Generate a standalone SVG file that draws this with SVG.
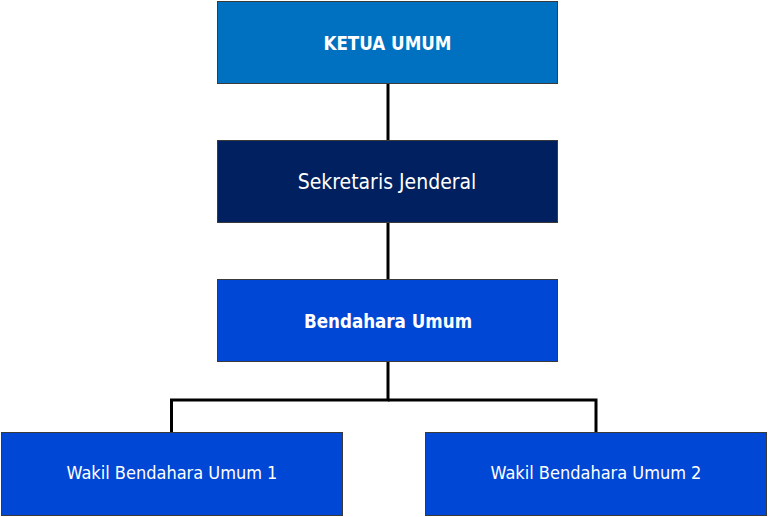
<svg xmlns="http://www.w3.org/2000/svg" width="768" height="517" viewBox="0 0 768 517">
<style>
.box{stroke:#3a3a3a;stroke-width:1}
.t{font-family:"DejaVu Sans Condensed","DejaVu Sans",sans-serif;font-stretch:condensed;fill:#ffffff;text-anchor:middle;font-size:18px}
.b{font-weight:bold;font-size:18.6px}
.big{font-size:21px}
.c{fill:none;stroke:#000000;stroke-width:3}
</style>
<rect width="768" height="517" fill="#ffffff"/>
<g id="connectors">
<line class="c" x1="388" y1="84" x2="388" y2="140"/>
<line class="c" x1="388" y1="223" x2="388" y2="279"/>
<polyline class="c" points="388,362 388,400 171.5,400 171.5,432"/>
<polyline class="c" points="388,400 596,400 596,432"/>
</g>
<g id="ketua">
<rect class="box" x="217.5" y="1.5" width="340" height="82" fill="#0070C0"/>
<text class="t b" x="387.5" y="50">KETUA UMUM</text>
</g>
<g id="sekjen">
<rect class="box" x="217.5" y="140.5" width="340" height="82" fill="#002060"/>
<text class="t big" x="387" y="189">Sekretaris Jenderal</text>
</g>
<g id="bendahara">
<rect class="box" x="217.5" y="279.5" width="340" height="82" fill="#0047D6"/>
<text class="t b" x="388" y="328">Bendahara Umum</text>
</g>
<g id="wakil1">
<rect class="box" x="1.5" y="432.5" width="341" height="83" fill="#0047D6"/>
<text class="t" x="172" y="479">Wakil Bendahara Umum 1</text>
</g>
<g id="wakil2">
<rect class="box" x="425.5" y="432.5" width="341" height="83" fill="#0047D6"/>
<text class="t" x="596" y="479">Wakil Bendahara Umum 2</text>
</g>
</svg>
